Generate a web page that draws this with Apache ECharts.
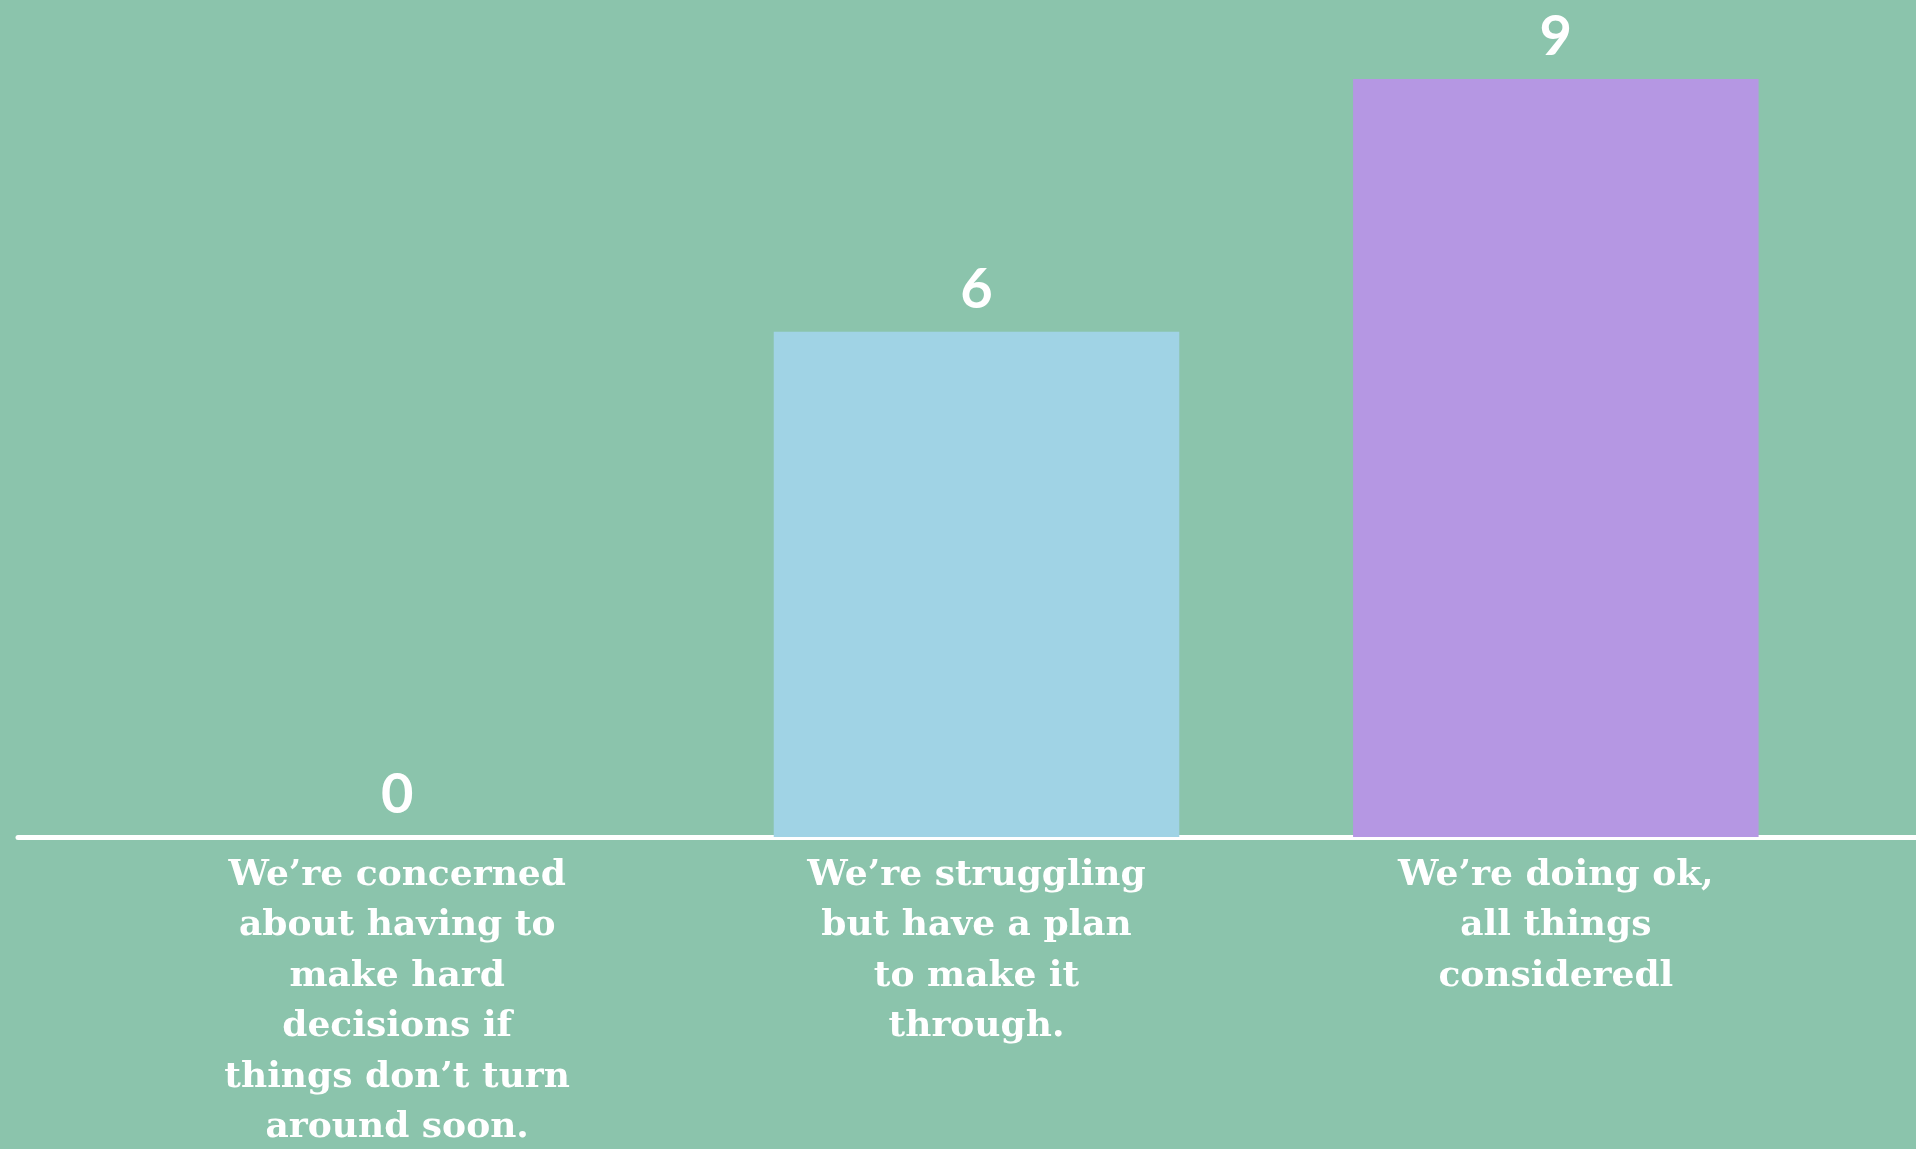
<!DOCTYPE html>
<html><head><meta charset="utf-8">
<script src="https://cdn.jsdelivr.net/npm/echarts@6/dist/echarts.min.js"></script>
<style>html,body{margin:0;padding:0;background:#8BC4AC;}#c{width:1916px;height:1149px;}</style>
</head><body><div id="c"></div>
<script>
const categories = [
  "We\u2019re concerned\nabout having to\nmake hard\ndecisions if\nthings don\u2019t turn\naround soon.",
  "We\u2019re struggling\nbut have a plan\nto make it\nthrough.",
  "We\u2019re doing ok,\nall things\nconsideredl"
];
const values = [0, 6, 9];
const barColors = ["#A0D3E5", "#A0D3E5", "#B597E3"];

const chart = echarts.init(document.getElementById('c'));
chart.setOption({
  backgroundColor: '#8BC4AC',
  animation: false,
  grid: [
    {left: 107.5, right: 70.5, top: 79, bottom: 312, containLabel: false, outerBoundsMode: 'none'},
    {left: 18, right: 0, top: 79, bottom: 312, containLabel: false, outerBoundsMode: 'none'}
  ],
  xAxis: [
    {
      type: 'category', data: categories, gridIndex: 0,
      axisLine: {show: false}, axisTick: {show: false},
      axisLabel: {
        color: '#FFFFFF', fontFamily: 'DejaVu Serif', fontWeight: 'bold',
        fontSize: 36, lineHeight: 50.5, margin: 13, interval: 0, align: 'center'
      }
    },
    {
      type: 'value', gridIndex: 1, min: 0, max: 1,
      axisLine: {show: true, lineStyle: {color: '#FFFFFF', width: 5}},
      axisTick: {show: false}, axisLabel: {show: false}, splitLine: {show: false}
    }
  ],
  yAxis: [
    {type: 'value', gridIndex: 0, min: 0, max: 9, show: false, splitLine: {show: false}},
    {type: 'value', gridIndex: 1, min: 0, max: 9, show: false, splitLine: {show: false}}
  ],
  series: [{
    type: 'bar', xAxisIndex: 0, yAxisIndex: 0,
    barCategoryGap: '30%',
    data: values.map((v, i) => ({value: v, itemStyle: {color: barColors[i]}})),
    label: {
      show: true, position: 'top', distance: 14,
      color: '#FFFFFF', fontFamily: 'Lato', fontWeight: 'bold', fontSize: 56
    }
  }]
});
</script></body></html>
